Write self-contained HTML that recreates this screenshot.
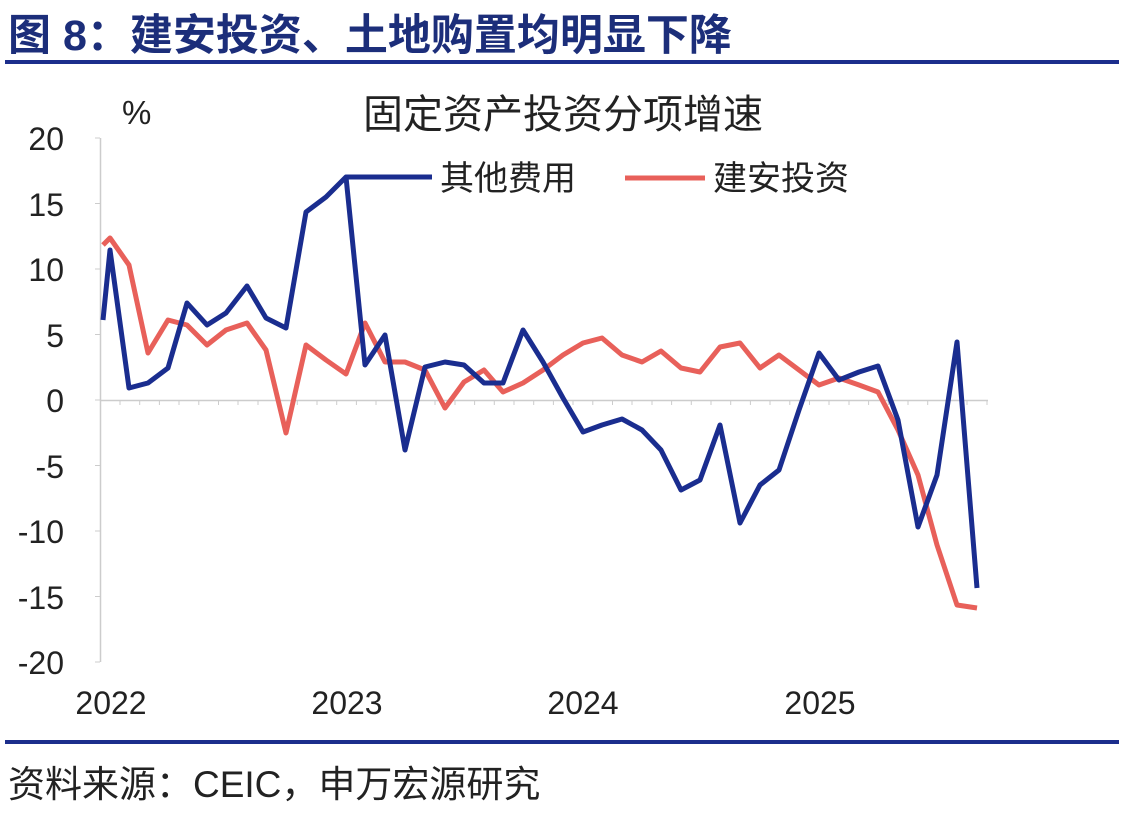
<!DOCTYPE html>
<html><head><meta charset="utf-8"><style>
html,body{margin:0;padding:0;background:#fff;}
body{width:1128px;height:816px;overflow:hidden;position:relative;font-family:"Liberation Sans","Noto Sans CJK SC",sans-serif;}
</style></head><body>
<svg width="1128" height="816" xmlns="http://www.w3.org/2000/svg" style="position:absolute;left:0;top:0">
<text x="8" y="50" font-size="43" font-weight="bold" fill="#1c2e7a" font-family="Liberation Sans,Noto Sans CJK SC,sans-serif">图 8：建安投资、土地购置均明显下降</text>
<rect x="5" y="60" width="1114" height="4" fill="#1c2e8c"/>
<text x="122" y="124" font-size="33" fill="#222" font-family="Liberation Sans,sans-serif">%</text>
<text x="563" y="128" font-size="40" fill="#222" text-anchor="middle" font-family="Liberation Sans,Noto Sans CJK SC,sans-serif">固定资产投资分项增速</text>
<g font-size="32" fill="#222" text-anchor="end" font-family="Liberation Sans,sans-serif">
<text x="64" y="150">20</text><text x="64" y="216">15</text><text x="64" y="281">10</text><text x="64" y="347">5</text><text x="64" y="412">0</text><text x="64" y="478">-5</text><text x="64" y="543">-10</text><text x="64" y="609">-15</text><text x="64" y="674">-20</text>
</g>
<g font-size="32" fill="#222" text-anchor="middle" font-family="Liberation Sans,sans-serif">
<text x="111" y="714">2022</text><text x="347" y="714">2023</text><text x="583" y="714">2024</text><text x="820" y="714">2025</text>
</g>
<line x1="100.5" y1="138" x2="100.5" y2="662" stroke="#ccc" stroke-width="1.5"/>
<line x1="100" y1="400.5" x2="988" y2="400.5" stroke="#ccc" stroke-width="1.5"/>
<g stroke="#ccc" stroke-width="1">
<path d="M100 138h-5M100 203.5h-5M100 269h-5M100 334.5h-5M100 400h-5M100 465.5h-5M100 531h-5M100 596.5h-5M100 662h-5"/>
<path d="M120 400v5M139.7 400v5M159.4 400v5M179 400v5M198.8 400v5M218.5 400v5M238 400v5M258 400v5M277.6 400v5M297.3 400v5M317 400v5M336.7 400v5M356.4 400v5M376 400v5M395.8 400v5M415.5 400v5M435 400v5M455 400v5M474.6 400v5M494.3 400v5M514 400v5M533.7 400v5M553.4 400v5M573 400v5M592.8 400v5M612.5 400v5M632 400v5M652 400v5M671.6 400v5M691.3 400v5M711 400v5M730.7 400v5M750.4 400v5M770 400v5M789.8 400v5M809.5 400v5M829 400v5M849 400v5M868.6 400v5M888.3 400v5M908 400v5M927.7 400v5M947.4 400v5M967 400v5M987 400v5"/>
</g>
<polyline fill="none" stroke="#e8605a" stroke-width="5" stroke-linejoin="round" points="103,245 110,238 129,265 148,353 168,320 187,325 207,345 226,330 247,323 266,350 286,433 306,345 326,360 346,374 365,323 385,362 405,362 425,370 445,408 464,382 484,370 503,392 523,383 543,370 563,355 583,343 602,338 622,355 642,362 661,351 681,368 700,372 720,347 740,343 760,368 779,355 799,370 819,385 839,378 859,385 878,392 898,430 918,475 937,545 957,605 977,608"/>
<polyline fill="none" stroke="#1a2d8f" stroke-width="5" stroke-linejoin="round" points="103,320 110,250 129,388 148,383 168,368 187,303 207,325 226,313 247,286 266,318 286,328 306,212 326,197 346,177 365,365 385,335 405,450 425,367 445,362 464,365 484,383 503,383 523,330 543,362 563,398 583,432 602,425 622,419 642,430 661,450 681,490 700,480 720,425 740,523 760,485 779,470 799,410 819,353 839,380 859,372 878,366 898,420 918,527 937,475 957,342 977,588"/>
<line x1="346" y1="177" x2="432" y2="177" stroke="#1a2d8f" stroke-width="5"/>
<text x="440" y="190" font-size="34" fill="#222" font-family="Liberation Sans,Noto Sans CJK SC,sans-serif">其他费用</text>
<line x1="625" y1="178" x2="705" y2="178" stroke="#e8605a" stroke-width="5"/>
<text x="713" y="190" font-size="34" fill="#222" font-family="Liberation Sans,Noto Sans CJK SC,sans-serif">建安投资</text>
<rect x="5" y="740" width="1114" height="4" fill="#1c2e8c"/>
<text x="8" y="797" font-size="37" fill="#222" font-family="Liberation Sans,Noto Sans CJK SC,sans-serif">资料来源：CEIC，申万宏源研究</text>
</svg>
</body></html>
